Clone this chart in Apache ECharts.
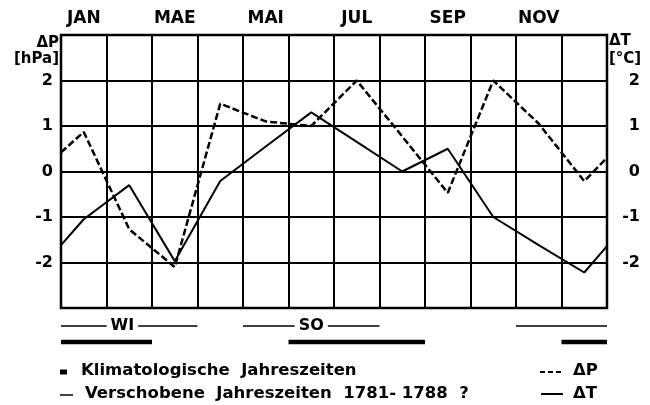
<!DOCTYPE html>
<html>
<head>
<meta charset="utf-8">
<script src="https://cdn.jsdelivr.net/npm/echarts@6/dist/echarts.min.js"></script>
<style>
  html, body { margin: 0; padding: 0; background: #fff; }
  #main { width: 650px; height: 405px; }
</style>
</head>
<body>
<div id="main"></div>
<script>
// Monatsnamen (oben), nur jeder zweite wird beschriftet
var months = ['JAN', 'FEB', 'MAE', 'APR', 'MAI', 'JUN', 'JUL', 'AUG', 'SEP', 'OKT', 'NOV', 'DEZ'];

// Abweichungen je Monat (Monatsmitte) + Werte am linken/rechten Rand
var deltaP = [0.87, -1.27, -2.1, 1.49, 1.1, 1.0, 2.0, 0.77, -0.47, 2.0, 1.05, -0.21];
var deltaPEdges = [0.42, 0.3];
var deltaT = [-1.05, -0.3, -1.97, -0.21, 0.55, 1.3, 0.65, 0.0, 0.5, -1.0, -1.62, -2.22];
var deltaTEdges = [-1.62, -1.64];

// Jahreszeiten als Monatsbereiche [von, bis]
var shiftedSeasons = [[0, 3], [4, 7], [10, 12]];   // Verschobene Jahreszeiten 1781-1788
var climSeasons = [[0, 2], [5, 8], [11, 12]];      // Klimatologische Jahreszeiten
var seasonNames = ['WI', 'SO'];
var seasonNamePos = [1.35, 5.5];

var yTicks = [-3, -2, -1, 0, 1, 2, 3];

var font = 'DejaVu Sans';

function toPoints(values, edges) {
    var pts = [[0, edges[0]]];
    for (var i = 0; i < values.length; i++) {
        pts.push([i + 0.5, values[i]]);
    }
    pts.push([months.length, edges[1]]);
    return pts;
}

function tickLabel(v) {
    if (v === yTicks[0] || v === yTicks[yTicks.length - 1]) return '';
    return String(v);
}

var myChart = echarts.init(document.getElementById('main'));

var series = [
    {
        name: 'ΔP',
        type: 'line',
        xAxisIndex: 0,
        yAxisIndex: 0,
        data: toPoints(deltaP, deltaPEdges),
        symbol: 'none',
        lineStyle: { color: '#000', width: 2.5, type: [7, 3] },
        z: 5
    },
    {
        name: 'ΔT',
        type: 'line',
        xAxisIndex: 0,
        yAxisIndex: 0,
        data: toPoints(deltaT, deltaTEdges),
        symbol: 'none',
        lineStyle: { color: '#000', width: 2 },
        z: 5
    }
];

shiftedSeasons.forEach(function (s) {
    series.push({
        type: 'line', xAxisIndex: 2, yAxisIndex: 2, symbol: 'none', silent: true,
        data: [[s[0], 3], [s[1], 3]],
        lineStyle: { color: '#000', width: 1.5 }
    });
});
climSeasons.forEach(function (s) {
    series.push({
        type: 'line', xAxisIndex: 2, yAxisIndex: 2, symbol: 'none', silent: true,
        data: [[s[0], 1], [s[1], 1]],
        lineStyle: { color: '#000', width: 4.5 }
    });
});
series.push({
    type: 'scatter', xAxisIndex: 2, yAxisIndex: 2, symbolSize: 0, silent: true, z: 10,
    itemStyle: { opacity: 1 },
    data: seasonNames.map(function (n, i) { return { name: n, value: [seasonNamePos[i], 3] }; }),
    label: {
        show: true, position: 'inside', formatter: '{b}', opacity: 1,
        color: '#000', fontFamily: font, fontWeight: 'bold', fontSize: 16,
        backgroundColor: '#fff', padding: [0, 4]
    }
});

var option = {
    animation: false,
    backgroundColor: '#fff',
    grid: [
        { left: 61, right: 43, top: 35, bottom: 97, show: true, borderColor: '#000', borderWidth: 2.5 },
        { left: 61, right: 43, top: 318, height: 32 }
    ],
    xAxis: [
        {
            type: 'value', gridIndex: 0, min: 0, max: 12, interval: 1,
            axisLine: { show: false }, axisTick: { show: false }, axisLabel: { show: false },
            splitLine: { show: true, lineStyle: { color: '#000', width: 2 } }
        },
        {
            type: 'category', gridIndex: 0, position: 'top', data: months, boundaryGap: true,
            axisLine: { show: false }, axisTick: { show: false }, splitLine: { show: false },
            axisLabel: {
                interval: 1, margin: 8, color: '#000',
                fontFamily: font, fontWeight: 'bold', fontSize: 17
            }
        },
        {
            type: 'value', gridIndex: 1, min: 0, max: 12, show: false
        }
    ],
    yAxis: [
        {
            type: 'value', gridIndex: 0, min: -3, max: 3, interval: 1,
            axisLine: { show: false }, axisTick: { show: false },
            splitLine: { show: true, lineStyle: { color: '#000', width: 2 } },
            axisLabel: {
                margin: 8, color: '#000', formatter: tickLabel,
                fontFamily: font, fontWeight: 'bold', fontSize: 16
            }
        },
        {
            type: 'value', gridIndex: 0, min: -3, max: 3, interval: 1, position: 'right',
            axisLine: { show: false }, axisTick: { show: false }, splitLine: { show: false },
            axisLabel: {
                margin: 33, align: 'right', color: '#000', formatter: tickLabel,
                fontFamily: font, fontWeight: 'bold', fontSize: 16
            }
        },
        {
            type: 'value', gridIndex: 1, min: 0, max: 4, show: false
        }
    ],
    graphic: [
        // Achsentitel
        { type: 'text', right: 650 - 59, top: 36, style: { text: 'ΔP', font: 'bold 15px ' + font, fill: '#000' } },
        { type: 'text', right: 650 - 59, top: 52, style: { text: '[hPa]', font: 'bold 15px ' + font, fill: '#000' } },
        { type: 'text', left: 609, top: 34, style: { text: 'ΔT', font: 'bold 15px ' + font, fill: '#000' } },
        { type: 'text', left: 609, top: 52, style: { text: '[°C]', font: 'bold 15px ' + font, fill: '#000' } },
        // Legende
        { type: 'line', shape: { x1: 60, y1: 372, x2: 67, y2: 372 }, style: { stroke: '#000', lineWidth: 5 } },
        { type: 'text', left: 81, top: 362, style: { text: 'Klimatologische  Jahreszeiten', font: 'bold 16.5px ' + font, fill: '#000' } },
        { type: 'line', shape: { x1: 60, y1: 395, x2: 73, y2: 395 }, style: { stroke: '#000', lineWidth: 1.5 } },
        { type: 'text', left: 85, top: 385, style: { text: 'Verschobene  Jahreszeiten  1781- 1788  ?', font: 'bold 16.5px ' + font, fill: '#000' } },
        { type: 'line', shape: { x1: 540, y1: 372, x2: 563, y2: 372 }, style: { stroke: '#000', lineWidth: 2, lineDash: [5, 3] } },
        { type: 'text', left: 573, top: 362, style: { text: 'ΔP', font: 'bold 16.5px ' + font, fill: '#000' } },
        { type: 'line', shape: { x1: 541, y1: 394, x2: 563, y2: 394 }, style: { stroke: '#000', lineWidth: 2 } },
        { type: 'text', left: 573, top: 385, style: { text: 'ΔT', font: 'bold 16.5px ' + font, fill: '#000' } }
    ],
    series: series
};

myChart.setOption(option);
</script>
</body>
</html>
